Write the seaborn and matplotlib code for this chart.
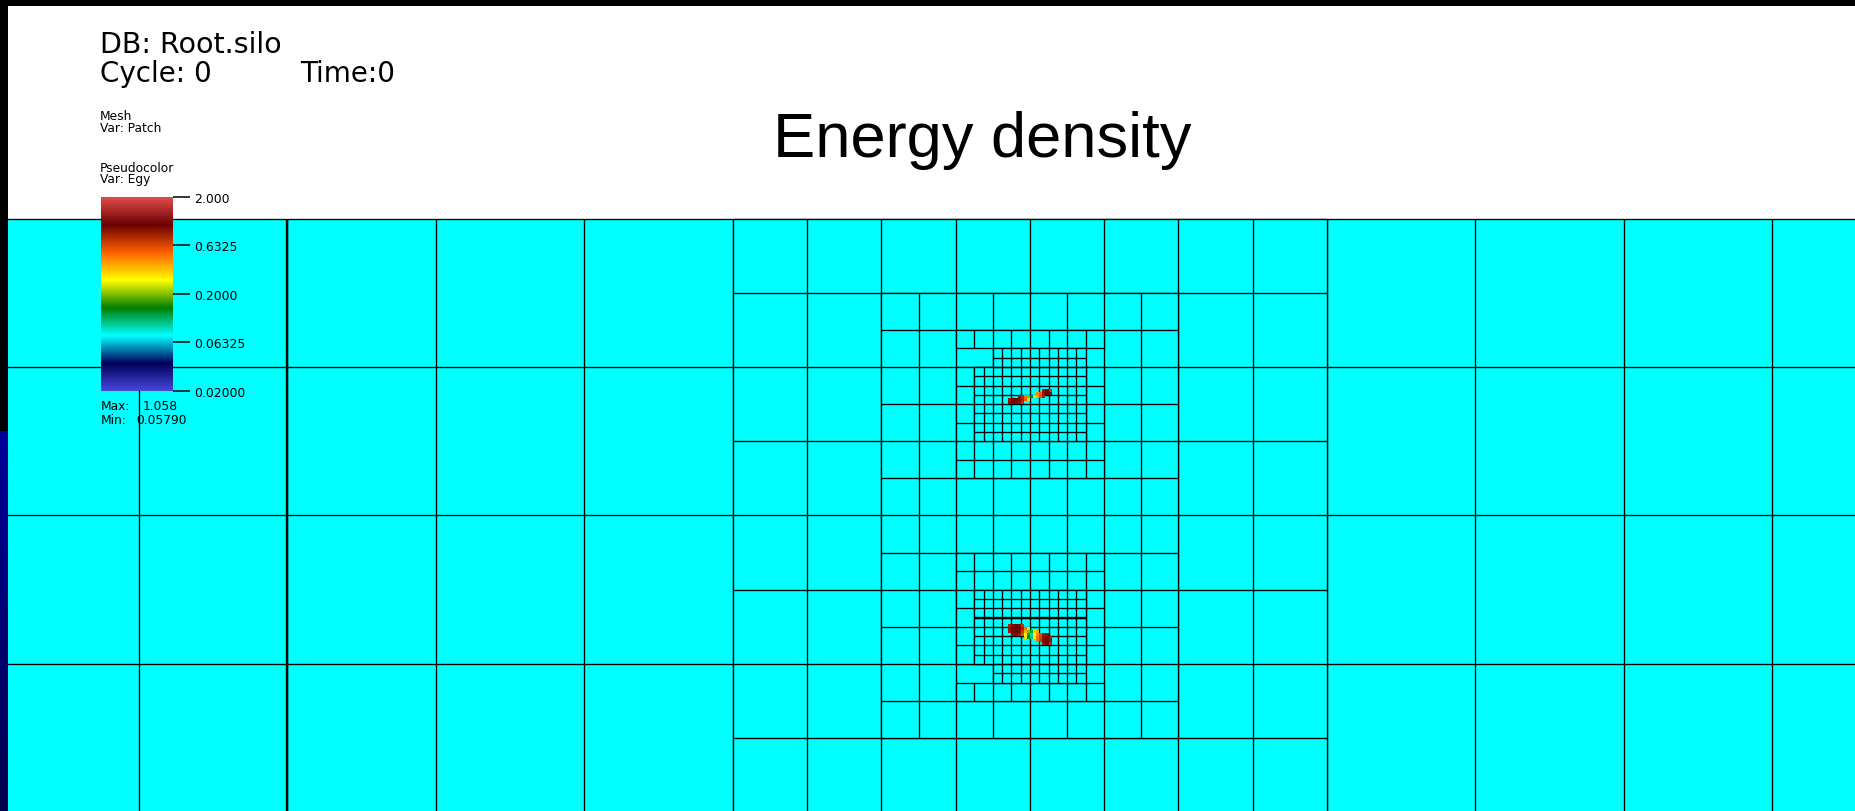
import numpy as np
import matplotlib
matplotlib.use("Agg")
import matplotlib.pyplot as plt
import seaborn as sns
from matplotlib.colors import LinearSegmentedColormap, LogNorm
from matplotlib.patches import Rectangle
from matplotlib.cm import ScalarMappable
from matplotlib.ticker import NullLocator

nan = np.nan

# ---------------------------------------------------------------- data
# Cell edge length of each refinement level, in finest-level (level 4) units
level_cell = [16, 8, 4, 2, 1]

# Patches of each level as (i_lo, i_hi, j_lo, j_hi) in finest-level units
patches_level0 = [(-16, 192, 0, 64)]
patches_level1 = [(64, 128, 0, 64)]
patches_level2 = [(80, 112, 8, 56)]
patches_level3 = [(88, 104, 12, 14), (88, 104, 16, 28),
                  (88, 104, 36, 48), (88, 104, 50, 52)]
patches_level4 = [(92, 102, 14, 16), (90, 102, 16, 24),
                  (90, 102, 40, 48), (92, 102, 48, 50)]

# Seams where neighbouring patch outlines overlap: (orientation, at, from, to)
seam_orient = ["v", "h"]
seam_at = [16, 43]
seam_from = [0, 90]
seam_to = [64, 102]

# Energy density (Egy) on a 3x sub-cell grid around the two fronts
egy_sub = 3
egy_upper_origin = (93 + 2 / 3, 18 + 1 / 3)
egy_upper = np.array([
    [nan, nan, nan, nan, nan, nan, nan, nan, nan, nan, nan, 0.85, 1.00, 0.70],
    [nan, nan, nan, nan, nan, nan, nan, nan, nan, 0.45, 0.55, 0.90, 1.05, 0.95],
    [nan, nan, nan, 0.90, 0.75, 0.50, 0.20, 0.14, 0.25, 0.40, 0.60, 0.80, nan, nan],
    [0.85, 1.00, 1.00, 0.95, 0.80, 0.55, 0.25, nan, nan, nan, nan, nan, nan, nan],
    [0.90, 1.00, 0.95, 0.90, 0.75, nan, nan, nan, nan, nan, nan, nan, nan, nan],
])
egy_lower_origin = (93 + 2 / 3, 43 + 2 / 3)
egy_lower = np.array([
    [0.80, 0.95, 1.00, 0.95, 0.70, nan, nan, nan, nan, nan, nan, nan, nan, nan],
    [0.90, 1.00, 1.05, 1.00, 0.80, 0.50, 0.25, nan, nan, nan, nan, nan, nan, nan],
    [0.85, 1.00, 1.00, 0.95, 0.70, 0.40, 0.20, 0.12, 0.25, 0.40, nan, nan, nan, nan],
    [nan, 0.90, 0.95, 0.85, 0.60, 0.30, 0.16, 0.09, 0.28, 0.45, 0.60, 0.85, 0.90, nan],
    [nan, nan, nan, nan, nan, 0.25, 0.15, 0.10, 0.30, 0.50, 0.65, 0.90, 1.00, 0.85],
    [nan, nan, nan, nan, nan, nan, nan, nan, nan, 0.50, 0.70, 0.95, 1.00, 0.90],
    [nan, nan, nan, nan, nan, nan, nan, nan, nan, nan, nan, 0.90, 1.00, 0.75],
])

egy_range = (0.02, 2.0)
egy_ticks = [2.0, 0.6325, 0.2, 0.06325, 0.02]
egy_tick_labels = ["2.000", "0.6325", "0.2000", "0.06325", "0.02000"]
egy_max_text = "1.058"
egy_min_text = "0.05790"

title_text = "Energy density"
db_text = "DB: Root.silo"
cycle_text = "Cycle: 0"
time_text = "Time:0"

# ---------------------------------------------------------------- style
sns.set_theme(style="white")
plt.rcParams["font.family"] = ["DejaVu Sans"]
plt.rcParams["text.color"] = "black"

W, H = 1855, 812
MESH_FILL = "#00FFFF"
LINE_W = 0.95

# VisIt "hot_desaturated" colour table
egy_cmap = LinearSegmentedColormap.from_list(
    "hot_desaturated",
    ["#4747DB", "#00005B", "#00FFFF", "#007F00",
     "#FFFF00", "#FF6000", "#6B0000", "#E04C4C"], N=512)
egy_norm = LogNorm(vmin=egy_range[0], vmax=egy_range[1])

fig = plt.figure(figsize=(W / 100, H / 100), dpi=100)
fig.patch.set_facecolor("white")


def fx(px):
    return px / W


def fy(py):
    return 1 - py / H


# ---------------------------------------------------------------- mesh view
px_left, px_right, px_top, px_bottom = 8, W, 217.5, H
origin_x, origin_y, unit = 139.0, 219.5, 9.281   # pixel of (0, 0), px per unit

ax = fig.add_axes([fx(px_left), fy(px_bottom), fx(px_right - px_left),
                   (px_bottom - px_top) / H])
ax.set_xlim((px_left - origin_x) / unit, (px_right - origin_x) / unit)
ax.set_ylim((px_bottom - origin_y) / unit, (px_top - origin_y) / unit)
ax.set_axis_off()

all_levels = [patches_level0, patches_level1, patches_level2,
              patches_level3, patches_level4]
for lev, boxes in enumerate(all_levels):
    s = level_cell[lev]
    for (i0, i1, j0, j1) in boxes:
        ax.add_patch(Rectangle((i0, j0), i1 - i0, j1 - j0, facecolor=MESH_FILL,
                               edgecolor="none", zorder=2 * lev + 1))
        xs = np.arange(i0, i1 + s / 2, s)
        ys = np.arange(j0, j1 + s / 2, s)
        ax.vlines(xs, j0, j1, colors="black", linewidth=LINE_W, zorder=2 * lev + 2)
        ax.hlines(ys, i0, i1, colors="black", linewidth=LINE_W, zorder=2 * lev + 2)

for o, at, a, b in zip(seam_orient, seam_at, seam_from, seam_to):
    if o == "v":
        ax.vlines([at], a, b, colors="black", linewidth=1.7, zorder=20)
    else:
        ax.hlines([at], a, b, colors="black", linewidth=1.7, zorder=20)


def data_rect_to_fig(x0, y0, x1, y1):
    p = ax.transData.transform([(x0, y0), (x1, y1)])
    inv = fig.transFigure.inverted()
    lo = inv.transform((p[:, 0].min(), p[:, 1].min()))
    hi = inv.transform((p[:, 0].max(), p[:, 1].max()))
    return [lo[0], lo[1], hi[0] - lo[0], hi[1] - lo[1]]


for origin, field in [(egy_upper_origin, egy_upper), (egy_lower_origin, egy_lower)]:
    rows, cols = field.shape
    x0, y0 = origin
    rect = data_rect_to_fig(x0, y0, x0 + cols / egy_sub, y0 + rows / egy_sub)
    bax = fig.add_axes(rect)
    sns.heatmap(field, ax=bax, cmap=egy_cmap, norm=egy_norm, mask=np.isnan(field),
                cbar=False, xticklabels=False, yticklabels=False, linewidths=0)
    bax.set_axis_off()

# ---------------------------------------------------------------- colour bar
cax = fig.add_axes([fx(101), fy(392), fx(72), 194 / H])
cb = fig.colorbar(ScalarMappable(norm=egy_norm, cmap=egy_cmap), cax=cax)
cb.outline.set_visible(False)
cb.set_ticks(egy_ticks, labels=egy_tick_labels)
cax.yaxis.set_minor_locator(NullLocator())
cax.tick_params(axis="y", which="major", right=True, left=False, length=12.5,
                width=1.1, color="black", pad=3, labelsize=8.9, labelcolor="black")

# ---------------------------------------------------------------- annotations
fig.text(fx(100), fy(53), db_text, fontsize=20.5, va="baseline", ha="left")
fig.text(fx(100), fy(81.5), cycle_text, fontsize=20, va="baseline", ha="left")
fig.text(fx(300), fy(81.5), time_text, fontsize=20, va="baseline", ha="left")
fig.text(fx(100), fy(120), "Mesh", fontsize=8.8, va="baseline", ha="left")
fig.text(fx(100), fy(132.5), "Var: Patch", fontsize=8.8, va="baseline", ha="left")
fig.text(fx(100), fy(171.5), "Pseudocolor", fontsize=8.8, va="baseline", ha="left")
fig.text(fx(100), fy(183.5), "Var: Egy", fontsize=8.8, va="baseline", ha="left")
fig.text(fx(101), fy(410.5), "Max:", fontsize=8.8, va="baseline", ha="left")
fig.text(fx(143), fy(410.5), egy_max_text, fontsize=8.8, va="baseline", ha="left")
fig.text(fx(101), fy(424), "Min:", fontsize=8.8, va="baseline", ha="left")
fig.text(fx(136), fy(424), egy_min_text, fontsize=8.8, va="baseline", ha="left")
fig.text(fx(982), fy(156.5), title_text, fontsize=45.5, va="baseline", ha="center",
         family=["Liberation Sans", "DejaVu Sans"])

# ---------------------------------------------------------------- window frame
fig.add_artist(Rectangle((0, fy(7)), 1, 7 / H, transform=fig.transFigure,
                         facecolor="black", edgecolor="none", zorder=50))
fig.add_artist(Rectangle((0, fy(432)), fx(8), 432 / H, transform=fig.transFigure,
                         facecolor="black", edgecolor="none", zorder=50))
edge_ax = fig.add_axes([0, 0, fx(8), (H - 432) / H])
edge_ax.imshow(np.linspace(0, 1, 64)[:, None], aspect="auto",
               cmap=LinearSegmentedColormap.from_list("edge", ["#000099", "#00004C"]))
edge_ax.set_axis_off()

fig.savefig("out.png", dpi=100)
